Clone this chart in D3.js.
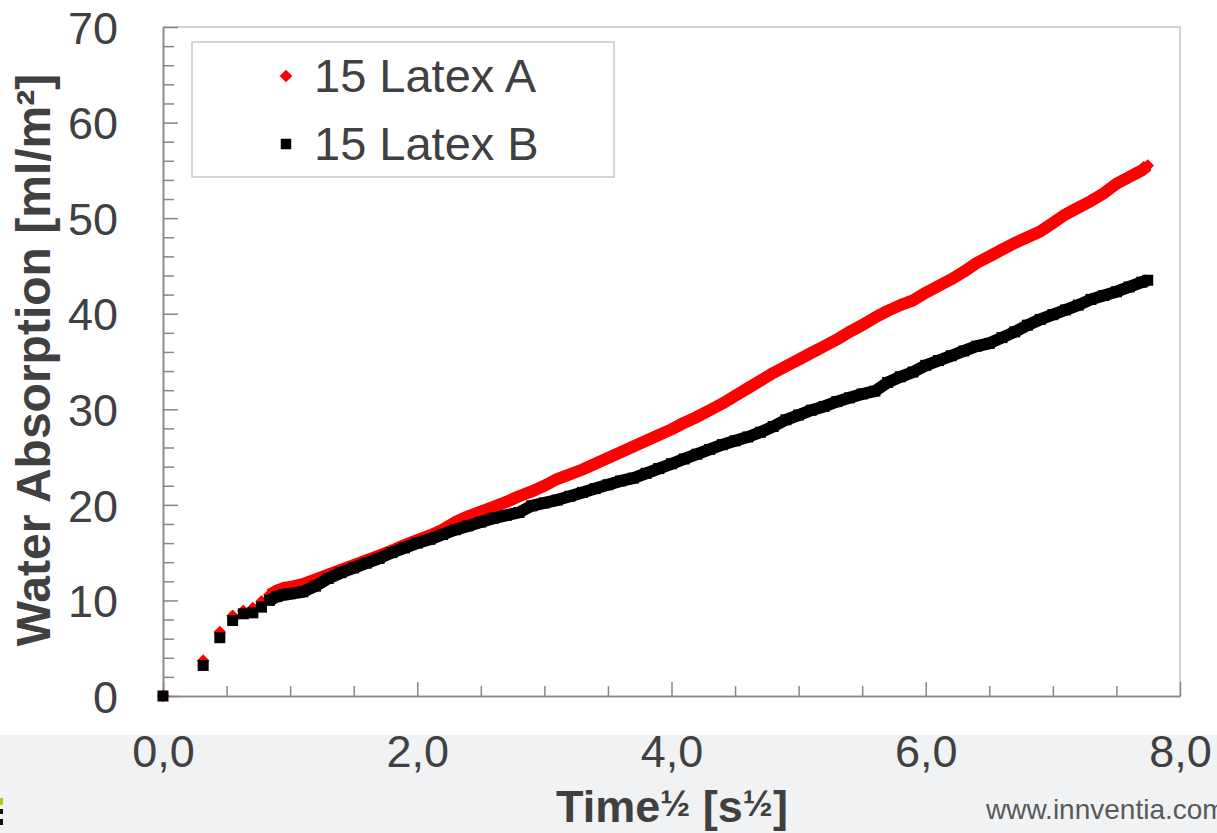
<!DOCTYPE html>
<html>
<head>
<meta charset="utf-8">
<script src="https://cdn.jsdelivr.net/npm/d3@7/dist/d3.min.js"></script>
<style>
  html, body { margin: 0; padding: 0; background: #ffffff; }
  svg { display: block; font-family: "Liberation Sans", Arial, sans-serif; }
</style>
</head>
<body>
<svg id="chart" width="1217" height="833"></svg>
<script>
// ---- data ----
const seriesNames = ["15 Latex A", "15 Latex B"];

const xA = [0, 0.316, 0.447, 0.548, 0.632, 0.707, 0.775, 0.837, 0.894, 0.949,
  1.0, 1.1, 1.2, 1.3, 1.4, 1.5, 1.6, 1.7, 1.8, 1.9,
  2.0, 2.1, 2.2, 2.3, 2.4, 2.5, 2.6, 2.7, 2.8, 2.9,
  3.0, 3.1, 3.2, 3.3, 3.4, 3.5, 3.6, 3.7, 3.8, 3.9,
  4.0, 4.1, 4.2, 4.3, 4.4, 4.5, 4.6, 4.7, 4.8, 4.9,
  5.0, 5.1, 5.2, 5.3, 5.4, 5.5, 5.6, 5.7, 5.8, 5.9,
  6.0, 6.1, 6.2, 6.3, 6.4, 6.5, 6.6, 6.7, 6.8, 6.9,
  7.0, 7.1, 7.2, 7.3, 7.4, 7.5, 7.6, 7.7, 7.746];
const yA = [0, 3.7, 6.7, 8.4, 8.9, 9.2, 9.9, 10.6, 11.0, 11.3,
  11.4, 11.7, 12.2, 12.7, 13.2, 13.7, 14.2, 14.7, 15.2, 15.8,
  16.3, 16.8, 17.4, 18.2, 18.8, 19.3, 19.8, 20.3, 20.9, 21.4,
  22.0, 22.7, 23.2, 23.7, 24.3, 24.9, 25.5, 26.1, 26.7, 27.3,
  27.9, 28.6, 29.2, 29.9, 30.6, 31.4, 32.2, 33.0, 33.8, 34.5,
  35.2, 35.9, 36.6, 37.3, 38.1, 38.8, 39.6, 40.3, 40.9, 41.4,
  42.2, 42.9, 43.6, 44.4, 45.3, 46.0, 46.7, 47.4, 48.0, 48.6,
  49.5, 50.4, 51.1, 51.8, 52.6, 53.6, 54.3, 55.0, 55.5];

const xB = xA.slice();
const yB = [0, 3.2, 6.1, 7.9, 8.6, 8.7, 9.3, 10.0, 10.4, 10.6,
  10.7, 10.9, 11.5, 12.3, 12.9, 13.4, 13.9, 14.4, 15.0, 15.5,
  16.0, 16.4, 16.9, 17.4, 17.8, 18.2, 18.6, 18.9, 19.2, 19.9,
  20.2, 20.5, 20.9, 21.3, 21.7, 22.1, 22.5, 22.8, 23.3, 23.8,
  24.3, 24.8, 25.3, 25.8, 26.3, 26.7, 27.1, 27.6, 28.2, 28.9,
  29.4, 29.9, 30.3, 30.8, 31.2, 31.6, 31.9, 32.8, 33.4, 33.9,
  34.6, 35.1, 35.6, 36.1, 36.6, 36.9, 37.5, 38.1, 38.8, 39.4,
  39.9, 40.4, 40.9, 41.5, 41.9, 42.3, 42.8, 43.3, 43.5];

const yTickMajor = [0, 10, 20, 30, 40, 50, 60, 70];
const yTickMinor = [2, 4, 6, 8, 12, 14, 16, 18, 22, 24, 26, 28, 32, 34, 36, 38, 42, 44, 46, 48, 52, 54, 56, 58, 62, 64, 66, 68];
const xTickMajor = [0, 2, 4, 6, 8];
const xTickMinor = [0.5, 1, 1.5, 2.5, 3, 3.5, 4.5, 5, 5.5, 6.5, 7, 7.5];
const xTickLabels = ["0,0", "2,0", "4,0", "6,0", "8,0"];

const yTitle = "Water Absorption [ml/m\u00B2]";
const xTitleParts = [["Time", false], ["\u00BD", true], [" [s", false], ["\u00BD", true], ["]", false]];
const footerText = "www.innventia.com";

// ---- layout ----
const svg = d3.select("#chart");
const W = 1217, H = 833;
const pLeft = 163, pRight = 1180, pTop = 27, pBottom = 696;

const x = d3.scaleLinear().domain([0, 8]).range([pLeft, pRight]);
const y = d3.scaleLinear().domain([0, 70]).range([pBottom, pTop]);

// slide footer band
svg.append("rect").attr("x", 0).attr("y", 735).attr("width", W).attr("height", H - 735).attr("fill", "#f1f2f4");
// cropped logo edge at lower left
svg.append("rect").attr("x", 0).attr("y", 798).attr("width", 3).attr("height", 7).attr("fill", "#b8c21c");
svg.append("rect").attr("x", 0).attr("y", 809).attr("width", 3).attr("height", 5).attr("fill", "#111");
svg.append("rect").attr("x", 0).attr("y", 819).attr("width", 3).attr("height", 6).attr("fill", "#111");

// plot frame (top & right)
svg.append("path")
  .attr("d", `M${pLeft},${pTop}H${pRight}V${pBottom}`)
  .attr("fill", "none").attr("stroke", "#c4c4c4").attr("stroke-width", 1.5);

const axisColor = "#878787";
const labelColor = "#404040";

const gyMinor = svg.append("g").attr("transform", `translate(${pLeft},0)`)
  .call(d3.axisLeft(y).tickValues(yTickMinor).tickSize(-11).tickSizeOuter(0).tickFormat(""));
const gy = svg.append("g").attr("transform", `translate(${pLeft},0)`)
  .call(d3.axisLeft(y).tickValues(yTickMajor).tickSize(-15).tickSizeOuter(0).tickPadding(45).tickFormat(d3.format("d")));

const gxMinor = svg.append("g").attr("transform", `translate(0,${pBottom})`)
  .call(d3.axisBottom(x).tickValues(xTickMinor).tickSize(-10).tickSizeOuter(0).tickFormat(""));
const gx = svg.append("g").attr("transform", `translate(0,${pBottom})`)
  .call(d3.axisBottom(x).tickValues(xTickMajor).tickSize(-14).tickSizeOuter(0).tickPadding(39)
    .tickFormat((d, i) => xTickLabels[i]));

[gyMinor, gy, gxMinor, gx].forEach(g => {
  g.selectAll(".domain").attr("stroke", axisColor).attr("stroke-width", 1.5);
  g.selectAll(".tick line").attr("stroke", axisColor).attr("stroke-width", 1.5);
  g.selectAll(".tick text").attr("fill", labelColor)
    .style("font-family", "'Liberation Sans', Arial, sans-serif").style("font-size", "45px");
});
gy.selectAll(".tick text").attr("dy", "0.36em");

// ---- series ----
const dataA = xA.map((v, i) => ({ x: v, y: yA[i] }));
const dataB = xB.map((v, i) => ({ x: v, y: yB[i] }));
const line = d3.line().x(d => x(d.x)).y(d => y(d.y));
const denseStart = 7;

const diamond = d3.symbol().type(d3.symbolSquare).size(80);
const square = d3.symbol().type(d3.symbolSquare).size(121);

svg.append("path").datum(dataA.slice(denseStart))
  .attr("d", line).attr("fill", "none").attr("stroke", "#ff0000")
  .attr("stroke-width", 12).attr("stroke-linejoin", "round");
svg.append("g").selectAll("path").data(dataA).join("path")
  .attr("d", diamond)
  .attr("transform", d => `translate(${x(d.x)},${y(d.y)}) rotate(45)`)
  .attr("fill", "#ff0000");

svg.append("path").datum(dataB.slice(denseStart))
  .attr("d", line).attr("fill", "none").attr("stroke", "#000000")
  .attr("stroke-width", 12).attr("stroke-linejoin", "round");
svg.append("g").selectAll("path").data(dataB).join("path")
  .attr("d", square)
  .attr("transform", d => `translate(${x(d.x)},${y(d.y)})`)
  .attr("fill", "#000000");

// ---- legend ----
const lg = svg.append("g");
lg.append("rect").attr("x", 192).attr("y", 42).attr("width", 422).attr("height", 135)
  .attr("fill", "#ffffff").attr("stroke", "#c8c8c8").attr("stroke-width", 1.5);
lg.append("path").attr("d", diamond).attr("transform", "translate(286,76) rotate(45)").attr("fill", "#ff0000");
lg.append("path").attr("d", d3.symbol().type(d3.symbolSquare).size(110)).attr("transform", "translate(286,144)").attr("fill", "#000000");
lg.append("text").attr("x", 314).attr("y", 92).text(seriesNames[0])
  .attr("fill", labelColor).style("font-size", "47px");
lg.append("text").attr("x", 314).attr("y", 160).text(seriesNames[1])
  .attr("fill", labelColor).style("font-size", "47px");

// ---- titles ----
svg.append("text")
  .attr("transform", "translate(50,360) rotate(-90)")
  .attr("text-anchor", "middle")
  .attr("fill", labelColor).style("font-size", "48px").style("font-weight", "bold")
  .text(yTitle);

const xt = svg.append("text")
  .attr("x", 672).attr("y", 822)
  .attr("text-anchor", "middle")
  .attr("fill", labelColor).style("font-size", "45px").style("font-weight", "bold");
xTitleParts.forEach(([t, small], i) => {
  const prevSmall = i > 0 && xTitleParts[i - 1][1];
  xt.append("tspan").text(t)
    .attr("dy", small ? -6 : (prevSmall ? 6 : 0))
    .style("font-size", small ? "36px" : "45px");
});

svg.append("text")
  .attr("x", 986).attr("y", 819)
  .attr("fill", "#595959").style("font-size", "28px")
  .text(footerText);
</script>
</body>
</html>
